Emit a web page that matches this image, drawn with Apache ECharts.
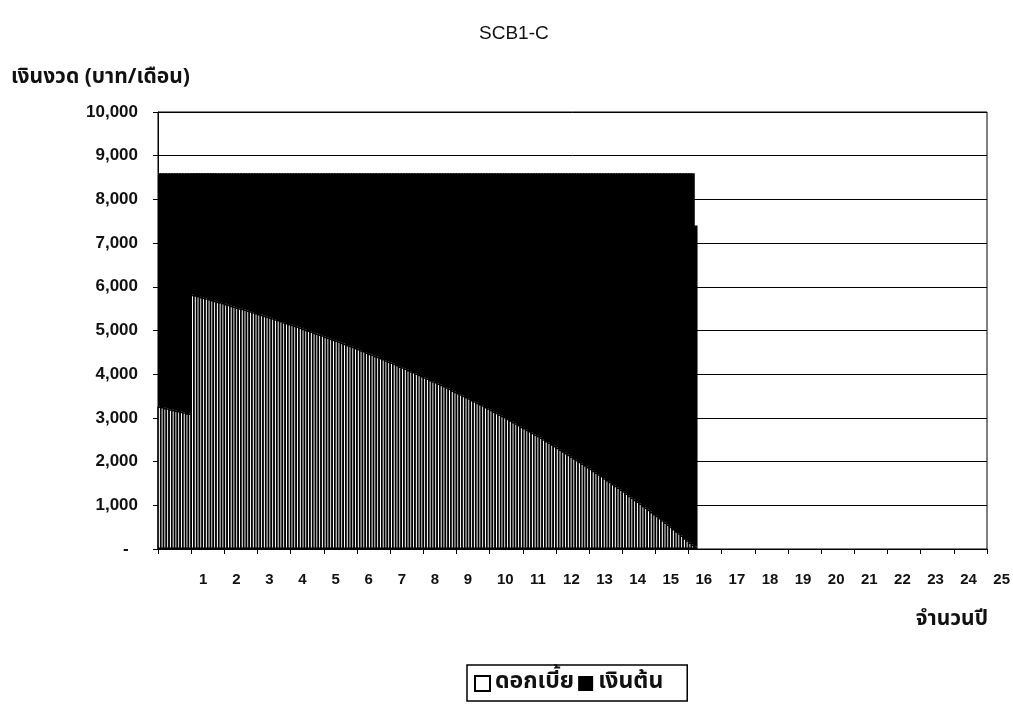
<!DOCTYPE html>
<html>
<head>
<meta charset="utf-8">
<title>SCB1-C</title>
<script src="https://cdn.jsdelivr.net/npm/echarts@6.0.0/dist/echarts.min.js"></script>
<style>
  html, body { margin: 0; padding: 0; background: #fff; }
  #chart { width: 1013px; height: 710px; }
</style>
</head>
<body>
<div id="chart"></div>
<script>
// ดอกเบี้ย (interest) per month, months 1..195
var interest = [
    3260, 3250, 3230, 3220, 3200, 3190, 3170, 3160, 3140, 3130, 3110, 3100,
    5820, 5810, 5790,
    5770, 5750, 5740, 5720, 5700, 5680, 5660, 5650, 5630, 5610, 5590, 5570,
    5550, 5530, 5510, 5500, 5480, 5460, 5440, 5420, 5400, 5380, 5360, 5340,
    5320, 5300, 5280, 5260, 5240, 5220, 5190, 5170, 5150, 5130, 5110, 5090,
    5070, 5040, 5020, 5000, 4980, 4950, 4930, 4910, 4890, 4860, 4840, 4820,
    4790, 4770, 4750, 4720, 4700, 4670, 4650, 4630, 4600, 4580, 4550, 4530,
    4500, 4470, 4450, 4420, 4400, 4370, 4350, 4320, 4290, 4270, 4240, 4210,
    4180, 4160, 4130, 4100, 4070, 4050, 4020, 3990, 3960, 3930, 3900, 3870,
    3840, 3820, 3790, 3760, 3730, 3700, 3670, 3630, 3600, 3570, 3540, 3510,
    3480, 3450, 3410, 3380, 3350, 3320, 3290, 3250, 3220, 3190, 3150, 3120,
    3080, 3050, 3020, 2980, 2950, 2910, 2880, 2840, 2800, 2770, 2730, 2700,
    2660, 2620, 2590, 2550, 2510, 2470, 2440, 2400, 2360, 2320, 2280, 2240,
    2200, 2160, 2120, 2080, 2040, 2000, 1960, 1920, 1880, 1840, 1790, 1750,
    1710, 1670, 1620, 1580, 1540, 1490, 1450, 1410, 1360, 1320, 1270, 1220,
    1180, 1130, 1090, 1040, 990, 950, 900, 850, 800, 760, 710, 660,
    610, 560, 510, 460, 410, 360, 310, 250, 200, 150, 100, 50
];

// เงินต้น (principal) per month, months 1..195
var principal = [
    5340, 5350, 5370, 5380, 5400, 5410, 5430, 5440, 5460, 5470, 5490, 5500,
    2780, 2790, 2810,
    2830, 2850, 2860, 2880, 2900, 2920, 2940, 2950, 2970, 2990, 3010, 3030,
    3050, 3070, 3090, 3100, 3120, 3140, 3160, 3180, 3200, 3220, 3240, 3260,
    3280, 3300, 3320, 3340, 3360, 3380, 3410, 3430, 3450, 3470, 3490, 3510,
    3530, 3560, 3580, 3600, 3620, 3650, 3670, 3690, 3710, 3740, 3760, 3780,
    3810, 3830, 3850, 3880, 3900, 3930, 3950, 3970, 4000, 4020, 4050, 4070,
    4100, 4130, 4150, 4180, 4200, 4230, 4250, 4280, 4310, 4330, 4360, 4390,
    4420, 4440, 4470, 4500, 4530, 4550, 4580, 4610, 4640, 4670, 4700, 4730,
    4760, 4780, 4810, 4840, 4870, 4900, 4930, 4970, 5000, 5030, 5060, 5090,
    5120, 5150, 5190, 5220, 5250, 5280, 5310, 5350, 5380, 5410, 5450, 5480,
    5520, 5550, 5580, 5620, 5650, 5690, 5720, 5760, 5800, 5830, 5870, 5900,
    5940, 5980, 6010, 6050, 6090, 6130, 6160, 6200, 6240, 6280, 6320, 6360,
    6400, 6440, 6480, 6520, 6560, 6600, 6640, 6680, 6720, 6760, 6810, 6850,
    6890, 6930, 6980, 7020, 7060, 7110, 7150, 7190, 7240, 7280, 7330, 7380,
    7420, 7470, 7510, 7560, 7610, 7650, 7700, 7750, 7800, 7840, 7890, 7940,
    7990, 8040, 8090, 8140, 8190, 8240, 8290, 8350, 8400, 8450, 8500, 7350
];

var totalYears = 25;
var monthsPerYear = 12;
var yTicks = [0, 1000, 2000, 3000, 4000, 5000, 6000, 7000, 8000, 9000, 10000];

// one category per month over the whole axis
var months = [];
for (var m = 1; m <= totalYears * monthsPerYear; m++) {
    months.push(String(m));
}

var thai = 'Tahoma, "Noto Sans Thai", "Noto Sans", "DejaVu Sans", sans-serif';
var latin = 'Arial, "Liberation Sans", sans-serif';

var chart = echarts.init(document.getElementById('chart'));

var gridBox = { left: 158, right: 26, top: 112, bottom: 161 };

chart.setOption({
    animation: false,
    backgroundColor: '#fff',
    title: [{
        text: 'SCB1-C',
        left: 474,
        top: 19,
        textStyle: { fontFamily: latin, fontSize: 19, fontWeight: 'normal', color: '#111' }
    }, {
        text: 'เงินงวด (บาท/เดือน)',
        left: 6,
        top: 63,
        textStyle: { fontFamily: thai, fontSize: 21, fontWeight: 'bold', color: '#111' }
    }, {
        text: 'จำนวนปี',
        right: 20,
        top: 605,
        textStyle: { fontFamily: thai, fontSize: 21, fontWeight: 'bold', color: '#111' }
    }],
    legend: {
        left: 467,
        top: 665,
        padding: [7, 24, 6, 7],
        backgroundColor: '#fff',
        borderColor: '#000',
        borderWidth: 1.5,
        borderRadius: 0,
        icon: 'rect',
        itemWidth: 15,
        itemHeight: 15,
        itemGap: 4,
        textStyle: { fontFamily: thai, fontSize: 23, fontWeight: 'bold', color: '#111' },
        data: ['ดอกเบี้ย', 'เงินต้น']
    },
    grid: [Object.assign({ show: true, borderColor: '#000', borderWidth: 1 }, gridBox),
           Object.assign({ show: false }, gridBox)],
    xAxis: [{
        type: 'category',
        gridIndex: 0,
        data: months,
        boundaryGap: true,
        axisLine: { lineStyle: { color: '#000', width: 1 } },
        axisTick: {
            show: true,
            length: 5,
            interval: function (idx) { return idx % monthsPerYear === 0; },
            lineStyle: { color: '#000' }
        },
        axisLabel: { show: false },
        splitLine: { show: false }
    }, {
        type: 'value',
        gridIndex: 1,
        min: 0,
        max: totalYears,
        interval: 1,
        axisLine: { show: false },
        axisTick: { show: false },
        splitLine: { show: false },
        axisLabel: {
            margin: 23,
            align: 'left',
            showMinLabel: false,
            showMaxLabel: true,
            formatter: function (v) { return v === 0 ? '' : '{a|' + v + '}'; },
            rich: {
                a: { fontFamily: latin, fontSize: 15, fontWeight: 'bold', color: '#111', padding: [0, 0, 0, 8] }
            }
        }
    }],
    yAxis: [{
        type: 'value',
        gridIndex: 0,
        min: yTicks[0],
        max: yTicks[yTicks.length - 1],
        interval: 1000,
        axisLine: { show: true, lineStyle: { color: '#000' } },
        axisTick: { show: true, length: 5, lineStyle: { color: '#000' } },
        splitLine: { show: true, lineStyle: { color: '#000', width: 1 } },
        axisLabel: {
            margin: 20,
            fontFamily: latin,
            fontSize: 17,
            fontWeight: 'bold',
            color: '#111',
            formatter: function (v) { return v === 0 ? '-  ' : v.toLocaleString('en-US'); }
        }
    }, {
        type: 'value',
        gridIndex: 1,
        show: false
    }],
    series: [{
        name: 'ดอกเบี้ย',
        type: 'bar',
        stack: 'pay',
        xAxisIndex: 0,
        yAxisIndex: 0,
        // bars wider than a month so neighbours overlap: each leaves a thin white line
        barWidth: '150%',
        itemStyle: { color: '#fff', borderColor: '#000', borderWidth: 1.55 },
        emphasis: { disabled: true },
        data: interest
    }, {
        name: 'เงินต้น',
        type: 'bar',
        stack: 'pay',
        xAxisIndex: 0,
        yAxisIndex: 0,
        itemStyle: { color: '#000', borderColor: '#000', borderWidth: 0 },
        emphasis: { disabled: true },
        data: principal
    }]
});
</script>
</body>
</html>
